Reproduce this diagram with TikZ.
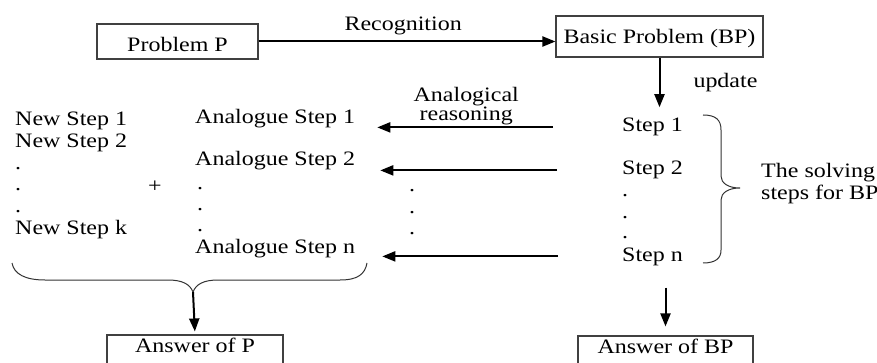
\documentclass[tikz,border=0pt]{standalone}
\usepackage{fontspec}
\setmainfont[FakeStretch=1.17]{Liberation Serif}
\usetikzlibrary{positioning,arrows.meta,calc}

\tikzset{
	box/.style={draw=black!75, line width=1.1pt, inner sep=0pt},
	txt/.style={inner sep=0pt, anchor=base west},
	arr/.style={-{Triangle[length=13pt,width=10pt]}, line width=2pt},
	brc/.style={line width=1pt, draw=black!80},
}

\begin{document}
\begin{tikzpicture}[x=1pt, y=-1pt, font=\fontsize{20.5pt}{22pt}\selectfont]
	\clip (0,0) rectangle (877,363);

	\node[box, minimum width=161pt, minimum height=35pt, text height=21pt, text depth=0pt] (p) at (177.5,41.5) {Problem P};
	\node[box, minimum width=207pt, minimum height=41pt, text height=15pt, text depth=0pt] (bp) at (659.5,36.5) {Basic Problem (BP)};
	\node[box, minimum width=176pt, minimum height=34pt, text height=7pt, text depth=7pt] (ap) at (195,352) {Answer of P};
	\node[box, minimum width=175pt, minimum height=34pt, text height=7pt, text depth=7pt] (abp) at (665.5,353) {Answer of BP};

	\node[txt] (s1) at (622,132) {Step 1};
	\node[txt] (s2) at ($(s1.base west)+(0,43)$) {Step 2};
	\foreach \y [count=\i] in {196.5,218.5,238.5}
		\node[txt] (sd\i) at (622,\y) {.};
	\node[txt] (sn) at (622,261) {Step n};

	\node[txt] (a1) at (195,124) {Analogue Step 1};
	\node[txt] (a2) at ($(a1.base west)+(0,42)$) {Analogue Step 2};
	\foreach \y [count=\i] in {189.5,210.5,231.5}
		\node[txt] (ad\i) at (197,\y) {.};
	\node[txt] (an) at (195,253) {Analogue Step n};

	\node[txt] (n1) at (15,126) {New Step 1};
	\node[txt] (n2) at ($(n1.base west)+(0,22)$) {New Step 2};
	\foreach \y [count=\i] in {170,191,213}
		\node[txt] (nd\i) at (15,\y) {.};
	\node[txt] (nk) at (15,235) {New Step k};

	\node[inner sep=0pt] (plus) at (155,187) {+};
	\foreach \y [count=\i] in {191.5,213.5,234.5}
		\node[txt] (md\i) at (409,\y) {.};

	\node[txt] (sol1) at (761,178) {The solving};
	\node[txt] (sol2) at ($(sol1.base west)+(0,22)$) {steps for BP};

	\draw[brc] (703,115) .. controls (716,115) and (721,120) .. (721,130) -- (721,176)
		.. controls (721,183) and (728,188) .. (740,188)
		.. controls (728,188) and (721,193) .. (721,200) -- (721,250)
		.. controls (721,258) and (716,263) .. (703,263);
	\draw[brc] (12,263) .. controls (14,274) and (25,280) .. (45,280) -- (168,280)
		.. controls (182,280) and (190,284) .. (193,292) coordinate (bt)
		.. controls (196,284) and (204,280) .. (218,280) -- (340,280)
		.. controls (358,280) and (365,274) .. (367,263);

	\draw[arr] (p.east) -- (p.east -| bp.west) node[pos=0.487, above=6pt, inner sep=0pt] (rec) {Recognition};
	\draw[arr, shorten >=11pt] (bp.south) -- (bp.south |- s1.north) node[pos=0.42, right=33pt, inner sep=0pt] (upd) {update};
	\draw[arr, shorten <=69pt, shorten >=22pt] (s1.west) -- (s1.west -| a1.east) node[pos=0.584, above=1pt, inner sep=0pt, align=center] (ar) {Analogical\\[-3pt]reasoning};
	\draw[arr, shorten <=65pt, shorten >=25pt] (s2.west) -- (s2.west -| a2.east);
	\draw[arr, shorten <=64pt, shorten >=27pt] (sn.west) -- (sn.west -| an.east);
	\draw[arr, shorten >=3pt] (bt) -- (ap.north);
	\draw[arr, shorten <=22pt, shorten >=9pt] (abp.north |- sn.south) -- (abp.north);
\end{tikzpicture}
\end{document}
